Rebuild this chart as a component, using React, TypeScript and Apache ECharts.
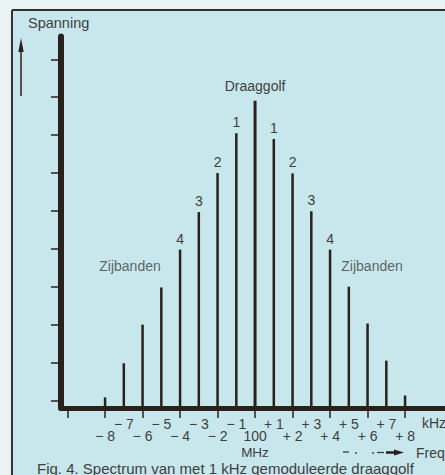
import React, { useEffect, useRef } from "react";
import * as echarts from "echarts";

// Frequency offsets (kHz) of the spectral lines, relative to the 100 MHz carrier
const freqs = [-8, -7, -6, -5, -4, -3, -2, -1, 0, 1, 2, 3, 4, 5, 6, 7, 8];
// Relative amplitude of each spectral line (in y-tick units)
const amplitudes = [1.08, 1.98, 3.0, 3.98, 4.98, 5.97, 7.0, 8.05, 8.94, 7.9, 6.99, 5.99, 4.98, 4.0, 3.03, 2.05, 1.13];
// Annotation above each line
const lineLabels = ["", "", "", "", "4", "3", "2", "1", "Draaggolf", "1", "2", "3", "4", "", "", "", ""];
// X axis ticks and labels (odd offsets on the upper row, even ones on the lower row)
const xTickValues = [-10, -8, -6, -4, -2, 0, 2, 4, 6, 8];
const xOddValues = [-7, -5, -3, -1, 1, 3, 5, 7];
const xOddTexts = ["− 7", "− 5", "− 3", "− 1", "+ 1", "+ 3", "+ 5", "+ 7"];
const xEvenValues = [-8, -6, -4, -2, 0, 2, 4, 6, 8];
const xEvenTexts = ["− 8", "− 6", "− 4", "− 2", "100", "+ 2", "+ 4", "+ 6", "+ 8"];
// Y axis ticks
const yTickValues = [1, 2, 3, 4, 5, 6, 7, 8, 9, 10];
// Sideband annotations
const sidebandNames = ["Zijbanden", "Zijbanden"];
const sidebandX = [-6.67, 6.24];
const sidebandY = [4.56, 4.54];

const INK = "#2a201c";
const TEXT = "#3e3e3e";
const FONT = "Liberation Sans, Arial, Helvetica, sans-serif";
const X_MIN = -10.35;
const X_MAX = 10.13;

export default function App() {
  const ref = useRef<HTMLDivElement>(null);
  useEffect(() => {
    if (!ref.current) return;
    const chart = echarts.init(ref.current, undefined, { renderer: "svg" });
    const barData = freqs.map((f, i) => {
      const lbl = lineLabels[i];
      const isCarrier = f === 0;
      return {
        value: [f, amplitudes[i]],
        itemStyle: isCarrier ? { borderWidth: 3, borderColor: INK } : undefined,
        label: lbl
          ? { show: true, formatter: lbl, position: "top", distance: isCarrier ? 6 : 4 }
          : { show: false },
      };
    });
    const textOf = (vals: number[], texts: string[]) => (v: number) => {
      const idx = vals.indexOf(Math.round(v));
      return idx < 0 ? "" : texts[idx];
    };
    const labelStyle = { color: TEXT, fontSize: 14, fontFamily: FONT, hideOverlap: false };
    chart.setOption({
      animation: false,
      backgroundColor: "#e9f3f3",
      grid: { left: 61, right: 0, top: 36.6, bottom: 67, containLabel: false },
      xAxis: [
        {
          type: "value",
          min: X_MIN,
          max: X_MAX,
          axisLine: { show: true, onZero: false, lineStyle: { color: INK, width: 5 } },
          axisTick: { show: true, customValues: xTickValues, length: 10, lineStyle: { color: INK, width: 1.5 } },
          axisLabel: { show: true, customValues: xOddValues, formatter: textOf(xOddValues, xOddTexts), margin: 9, ...labelStyle },
          splitLine: { show: false },
        },
        {
          type: "value",
          position: "bottom",
          min: X_MIN,
          max: X_MAX,
          axisLine: { show: false, onZero: false },
          axisTick: { show: false },
          axisLabel: { show: true, customValues: xEvenValues, formatter: textOf(xEvenValues, xEvenTexts), margin: 21, ...labelStyle },
          splitLine: { show: false },
        },
      ],
      yAxis: {
        type: "value",
        min: 0.8,
        max: 10.6,
        axisLine: { show: true, onZero: false, lineStyle: { color: INK, width: 6 } },
        axisTick: { show: true, customValues: yTickValues, length: 10, lineStyle: { color: INK, width: 1.5 } },
        axisLabel: { show: false },
        splitLine: { show: false },
      },
      series: [
        {
          type: "bar",
          xAxisIndex: 0,
          data: barData,
          barWidth: 2.5,
          itemStyle: { color: INK },
          label: { color: TEXT, fontSize: 14, fontFamily: FONT },
          clip: true,
        },
        {
          type: "scatter",
          xAxisIndex: 0,
          data: sidebandX.map((x, i) => ({ value: [x, sidebandY[i]], name: sidebandNames[i] })),
          symbolSize: 1,
          itemStyle: { color: "rgba(0,0,0,0)" },
          label: {
            show: true,
            position: "inside",
            formatter: (p: any) => p.name,
            color: TEXT,
            fontSize: 14,
            fontFamily: FONT,
          },
        },
      ],
      graphic: [
        { type: "rect", z: -10, shape: { x: 12, y: 10, width: 440, height: 470 }, style: { fill: "#c7e7ed" } },
        { type: "line", shape: { x1: 12, y1: 10, x2: 12, y2: 480 }, style: { stroke: "#333", lineWidth: 2 } },
        { type: "line", shape: { x1: 12, y1: 10, x2: 450, y2: 10 }, style: { stroke: "#333", lineWidth: 2 } },
        { type: "text", x: 28, y: 23, style: { text: "Spanning", fill: TEXT, font: `14.5px ${FONT}`, textAlign: "left", textVerticalAlign: "middle" } },
        { type: "line", shape: { x1: 21, y1: 96, x2: 21, y2: 48 }, style: { stroke: INK, lineWidth: 1.5 } },
        { type: "polygon", shape: { points: [[21, 38], [18.3, 52], [23.7, 52]] }, style: { fill: INK } },
        { type: "text", x: 422, y: 423, style: { text: "kHz", fill: TEXT, font: `14px ${FONT}`, textAlign: "left", textVerticalAlign: "middle" } },
        { type: "text", x: 255, y: 452, style: { text: "MHz", fill: TEXT, font: `13.5px ${FONT}`, textAlign: "center", textVerticalAlign: "middle" } },
        { type: "text", x: 416, y: 453, style: { text: "Freq", fill: TEXT, font: `14px ${FONT}`, textAlign: "left", textVerticalAlign: "middle" } },
        { type: "line", shape: { x1: 343, y1: 452, x2: 349, y2: 452 }, style: { stroke: TEXT, lineWidth: 1.3 } },
        { type: "circle", shape: { cx: 356, cy: 453, r: 0.9 }, style: { fill: TEXT } },
        { type: "circle", shape: { cx: 373, cy: 453, r: 0.9 }, style: { fill: TEXT } },
        { type: "line", shape: { x1: 377, y1: 452.5, x2: 384, y2: 452.5 }, style: { stroke: TEXT, lineWidth: 1.3 } },
        { type: "line", shape: { x1: 386, y1: 452.5, x2: 396, y2: 452.5 }, style: { stroke: INK, lineWidth: 2.5 } },
        { type: "polygon", shape: { points: [[404, 452.5], [394, 449.5], [394, 455.5]] }, style: { fill: INK } },
        { type: "text", x: 37, y: 468, style: { text: "Fig. 4. Spectrum van met 1 kHz gemoduleerde draaggolf", fill: TEXT, font: `15px ${FONT}`, textAlign: "left", textVerticalAlign: "middle" } },
      ],
    });
    return () => chart.dispose();
  }, []);
  return <div ref={ref} style={{ position: "fixed", left: 0, top: 0, width: 445, height: 475 }} />;
}
